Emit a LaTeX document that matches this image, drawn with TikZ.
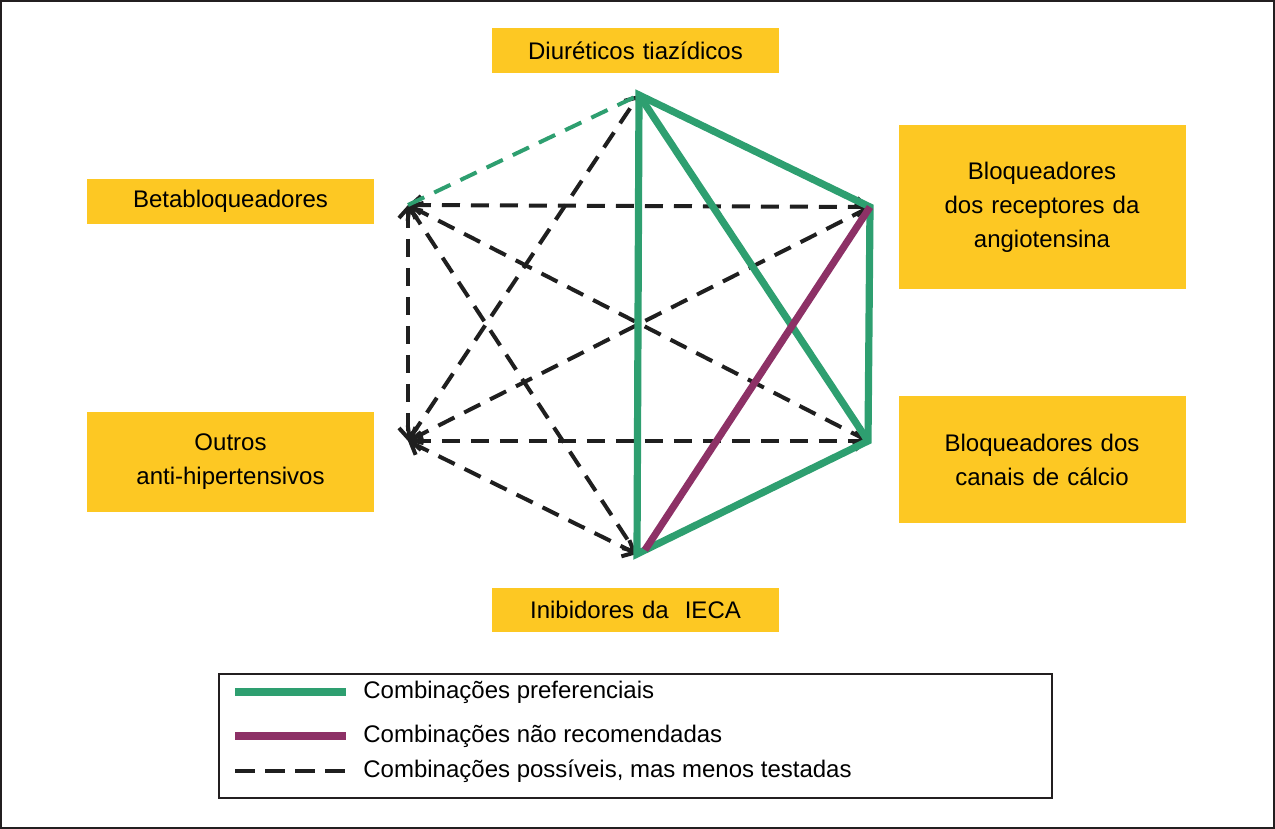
\documentclass[tikz,border=0pt]{standalone}
\usepackage{fontspec}
\setmainfont{Liberation Sans}
\usetikzlibrary{arrows.meta}
\definecolor{boxyellow}{HTML}{FDC823}
\definecolor{prefgreen}{HTML}{2E9F70}
\definecolor{nrpurple}{HTML}{8D3166}
\definecolor{framegray}{HTML}{231F20}
\tikzset{
  drugbox/.style={fill=boxyellow, draw=none, minimum width=143.5pt, text width=140pt, align=center, inner sep=0pt, font=\fontsize{12}{17}\selectfont},
  prefline/.style={draw=prefgreen, line width=3.6pt, line join=miter},
  nrline/.style={draw=nrpurple, line width=3.6pt},
  possline/.style={draw=black!88, line width=2pt, dash pattern=on 9pt off 5.5pt, {Straight Barb[length=5pt,width=9pt]}-{Straight Barb[length=5pt,width=9pt]}},
  greendash/.style={draw=prefgreen, line width=2pt, dash pattern=on 9pt off 5.5pt},
  legtext/.style={anchor=west, inner sep=0pt, font=\fontsize{12}{14}\selectfont},
}
\begin{document}
\begin{tikzpicture}[x=0.5pt,y=-0.5pt]
\useasboundingbox (0,0) rectangle (1275,829);
\draw[framegray, line width=1.2pt] (1,1) rectangle (1274,828);

% boxes
\node[drugbox, minimum height=22.5pt] (diu) at (635.5,50.5) {Diuréticos tiazídicos};
\node[drugbox, minimum height=82pt] (bra) at (1042,207) {Bloqueadores\\dos receptores da\\angiotensina};
\node[drugbox, minimum height=22pt] (beta) at (230.5,201.5) {Betabloqueadores};
\node[drugbox, minimum height=50pt] (outros) at (230.5,462) {Outros\\anti-hipertensivos};
\node[drugbox, minimum height=63.5pt] (bcc) at (1042,459.5) {Bloqueadores dos\\canais de cálcio};
\node[drugbox, minimum height=22pt] (ieca) at (635.5,610) {Inibidores da\ \ IECA};

% vertices
\coordinate (T) at (639,95);
\coordinate (R1) at (870,207);
\coordinate (R2) at (868,441);
\coordinate (B) at (637,554);
\coordinate (L1) at (408,205);
\coordinate (L2) at (408,441);
\coordinate (Bp) at (645,550);

% possible combinations
\draw[possline] (L1) -- (R1);
\draw[possline] (L1) -- (L2);
\draw[possline] (L1) -- (R2);
\draw[possline] (L1) -- (B);
\draw[possline] (L2) -- (R2);
\draw[possline] (L2) -- (R1);
\draw[possline] (L2) -- (T);
\draw[possline] (L2) -- (B);
\draw[greendash] (L1) -- (T);

% preferred
\draw[prefline] (T) -- (R1) -- (R2) -- (B) -- cycle;
\draw[prefline] (T) -- (R2);
% not recommended
\draw[nrline] (R1) -- (Bp);

% legend
\node[draw=framegray, line width=1.1pt, minimum width=416.5pt, minimum height=62pt, inner sep=0pt] (leg) at (635.5,736) {};
\coordinate (g1) at (235,692); \coordinate (g2) at (346,692);
\coordinate (p1) at (235,736); \coordinate (p2) at (346,736);
\coordinate (d1) at (235,771); \coordinate (d2) at (346,771);
\draw[draw=prefgreen, line width=3.6pt] (g1) -- (g2);
\draw[nrpurple, line width=3.6pt] (p1) -- (p2);
\draw[black!88, line width=2pt, dash pattern=on 10pt off 5pt] (d1) -- (d2);
\node[legtext] (lt1) at (363,692) {Combinações preferenciais};
\node[legtext] (lt2) at (363,736) {Combinações não recomendadas};
\node[legtext] (lt3) at (363,771) {Combinações possíveis, mas menos testadas};
\end{tikzpicture}
\end{document}
